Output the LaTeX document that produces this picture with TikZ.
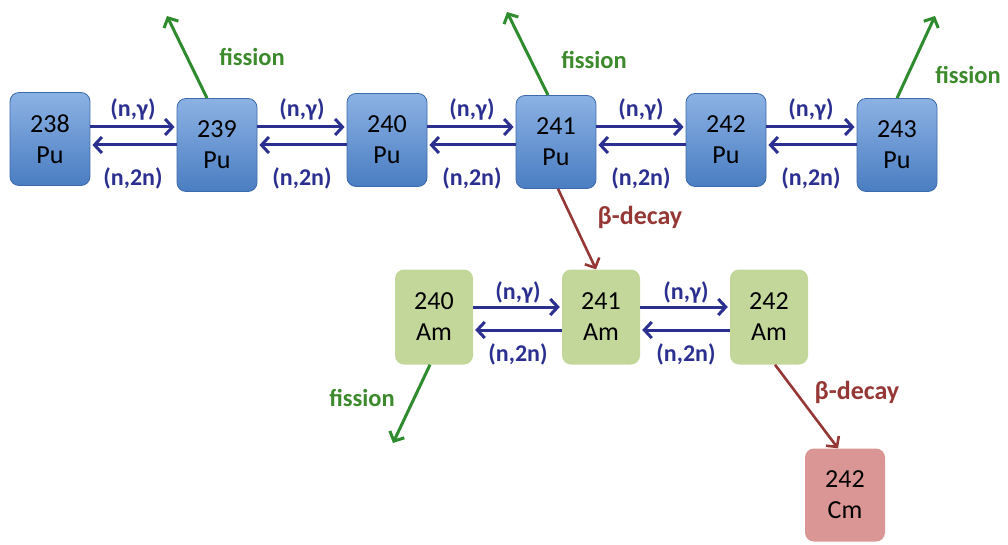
\documentclass[tikz,border=0pt]{standalone}
\usepackage{fontspec}
\setmainfont{Carlito}
\usetikzlibrary{arrows.meta}
\definecolor{navy}{HTML}{2B2F8F}
\definecolor{pulight}{HTML}{8CB2E4}
\definecolor{pudark}{HTML}{4A7DC2}
\definecolor{puborder}{HTML}{3D6AAA}
\definecolor{amfill}{HTML}{C4D79B}
\definecolor{cmfill}{HTML}{D99694}
\definecolor{fisgreen}{HTML}{2E8B2E}
\definecolor{fistext}{HTML}{3C8A2C}
\definecolor{betabrown}{HTML}{953735}
\begin{document}
\begin{tikzpicture}[x=1pt,y=-1pt,
  nucbox/.style={rounded corners=9pt, minimum width=80pt, minimum height=93pt, inner sep=0pt,
    align=center, font=\fontsize{26}{31}\selectfont},
  pubox/.style={nucbox, draw=puborder, line width=0.8pt, top color=pulight, bottom color=pudark},
  ambox/.style={nucbox, fill=amfill, minimum width=78pt, minimum height=95pt},
  cmbox/.style={nucbox, fill=cmfill},
  ngarrow/.style={draw=navy, line width=3pt, -{Straight Barb[length=7.5pt,width=16pt]}},
  fisarrow/.style={draw=fisgreen, line width=3pt, -{Straight Barb[length=7.5pt,width=16pt]}},
  betaarrow/.style={draw=betabrown, line width=2.6pt, -{Straight Barb[length=7.5pt,width=16pt]}},
  rlab/.style={text=navy, font=\bfseries\fontsize{24}{26}\selectfont, inner sep=0pt},
  fislab/.style={text=fistext, font=\bfseries\fontsize{24.5}{26}\selectfont, inner sep=0pt},
  betalab/.style={text=betabrown, font=\bfseries\fontsize{26}{28}\selectfont, inner sep=0pt}
]
\useasboundingbox (0,0) rectangle (1008,545);

% Pu chain
\node[pubox] (p238) at (50,139) {238\\Pu};
\node[pubox] (p239) at (217,145) {239\\Pu};
\node[pubox] (p240) at (387,140) {240\\Pu};
\node[pubox] (p241) at (556,142) {241\\Pu};
\node[pubox] (p242) at (726,140) {242\\Pu};
\node[pubox] (p243) at (897,145) {243\\Pu};

% Am chain
\node[ambox] (a240) at (434,317) {240\\Am};
\node[ambox] (a241) at (601,317) {241\\Am};
\node[ambox] (a242) at (769,317) {242\\Am};

% Cm
\node[cmbox] (c242) at (845,495) {242\\Cm};

% Pu (n,gamma) and (n,2n)
\foreach \a/\b in {p238/p239,p239/p240,p240/p241,p241/p242,p242/p243}{
  \draw[ngarrow] (\a.east |- 0,127) -- ([xshift=-2pt]\b.west |- 0,127);
  \draw[ngarrow] (\b.west |- 0,145) -- ([xshift=2pt]\a.east |- 0,145);
}
\foreach \x/\n in {133/1,302/2,472/3,641/4,811/5}{
  \node[rlab] (ng\n) at (\x,109) {(n,γ)};
  \node[rlab] (n2n\n) at (\x,178) {(n,2n)};
}

% Am (n,gamma) and (n,2n)
\foreach \a/\b in {a240/a241,a241/a242}{
  \draw[ngarrow] (\a.east |- 0,307) -- ([xshift=-2pt]\b.west |- 0,307);
  \draw[ngarrow] (\b.west |- 0,330) -- ([xshift=2pt]\a.east |- 0,330);
}
\node[rlab] (amng1) at (518,292) {(n,γ)};
\node[rlab] (amn2n1) at (518,354) {(n,2n)};
\node[rlab] (amng2) at (686,292) {(n,γ)};
\node[rlab] (amn2n2) at (686,354) {(n,2n)};

% fission
\coordinate (f239) at (167,16);
\coordinate (f241) at (507,12);
\coordinate (f243) at (935,16);
\coordinate (f240) at (393,443);
\draw[fisarrow] ([xshift=-10pt]p239.north) -- (f239);
\draw[fisarrow] ([xshift=-8pt]p241.north) -- (f241);
\draw[fisarrow] (p243.north) -- (f243);
\draw[fisarrow] ([xshift=-4pt]a240.south) -- (f240);
\node[fislab] (fl239) at (252,57) {fission};
\node[fislab] (fl241) at (594,60) {fission};
\node[fislab] (fl243) at (968,75) {fission};
\node[fislab] (fl240) at (362,398) {fission};

% beta decays
\draw[betaarrow] ([xshift=2pt]p241.south) -- ([xshift=-5pt]a241.north);
\draw[betaarrow] ([xshift=6pt]a242.south) -- ([xshift=-7pt]c242.north);
\node[betalab] (bl1) at (640,217) {β-decay};
\node[betalab] (bl2) at (857,392) {β-decay};
\end{tikzpicture}
\end{document}
